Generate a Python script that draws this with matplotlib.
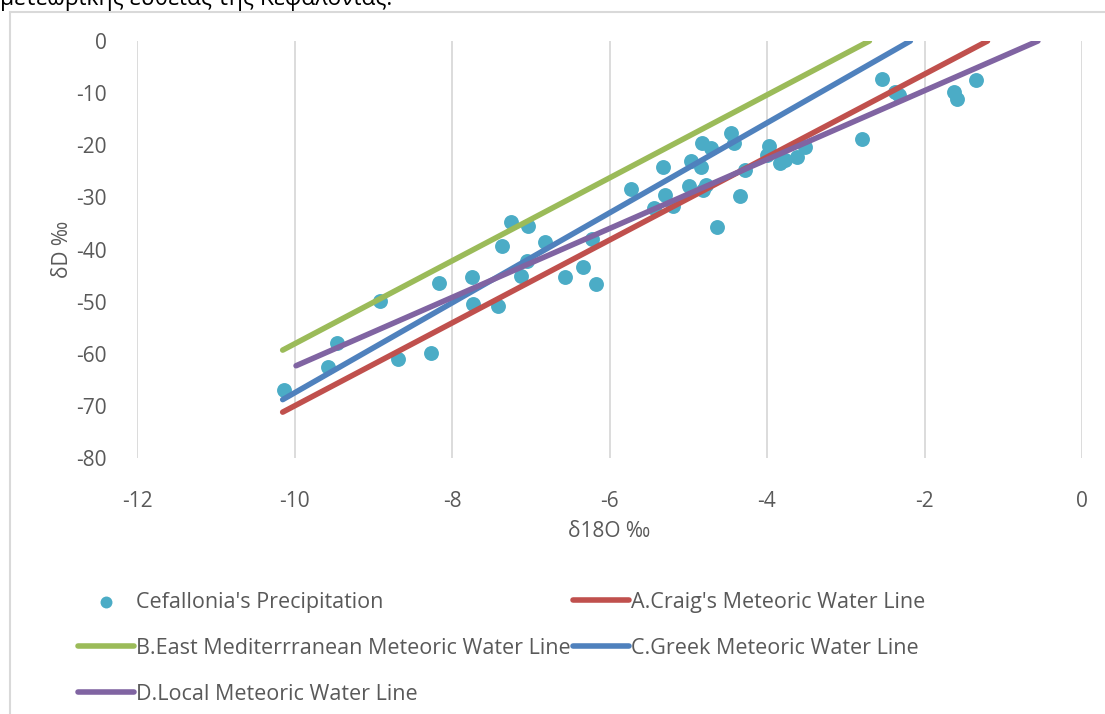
import matplotlib.pyplot as plt
from matplotlib.lines import Line2D

plt.rcParams['font.family'] = ['Open Sans', 'DejaVu Sans']
plt.rcParams['axes.unicode_minus'] = False

# δ18O / δD of precipitation samples
d18o = [-10.13, -9.57, -9.46, -8.91, -8.69, -8.17, -8.27, -7.74, -7.73, -7.42,
        -7.25, -7.37, -7.04, -6.82, -7.05, -7.12, -6.56, -6.34, -6.22, -6.17,
        -5.73, -5.32, -5.30, -5.44, -5.19, -4.99, -4.97, -4.83, -4.71, -4.84,
        -4.78, -4.81, -4.64, -4.46, -4.42, -4.34, -4.28, -3.97, -4.00, -3.83,
        -3.77, -3.62, -3.52, -2.79, -2.54, -2.38, -2.32, -1.63, -1.59, -1.34]
dD = [-66.9, -62.6, -57.9, -49.9, -61.1, -46.5, -59.8, -45.2, -50.5, -50.8,
      -34.7, -39.3, -35.4, -38.5, -42.3, -45.0, -45.2, -43.3, -37.9, -46.7,
      -28.3, -24.2, -29.5, -32.1, -31.7, -27.8, -23.0, -19.5, -20.6, -24.1,
      -27.6, -28.5, -35.6, -17.7, -19.6, -29.7, -24.7, -20.1, -21.9, -23.5,
      -22.8, -22.2, -20.4, -18.8, -7.2, -9.7, -10.4, -9.7, -11.1, -7.4]

# meteoric water lines (end points)
craig_x, craig_y = [-10.15, -1.2], [-71.2, 0]
emmwl_x, emmwl_y = [-10.15, -2.7], [-59.3, 0]
gmwl_x, gmwl_y = [-10.15, -2.18], [-68.8, 0]
lmwl_x, lmwl_y = [-9.98, -0.56], [-62.3, 0]

grey = '#595959'
fs = 15
lfs = 15.5

fig = plt.figure(figsize=(11.05, 7.14), dpi=100)
ax = fig.add_axes([137 / 1105, 1 - 458 / 714, 945 / 1105, 417 / 714])

ax.scatter(d18o, dD, s=115, color='#4BACC6', zorder=2, linewidths=0,
           label="Cefallonia's Precipitation")
lw = 4
ax.plot(craig_x, craig_y, color='#C0504D', lw=lw, solid_capstyle='round', zorder=3,
        label="A.Craig's Meteoric Water Line")
ax.plot(emmwl_x, emmwl_y, color='#9BBB59', lw=lw, solid_capstyle='round', zorder=3,
        label='B.East Mediterrranean Meteoric Water Line')
ax.plot(gmwl_x, gmwl_y, color='#4F81BD', lw=lw, solid_capstyle='round', zorder=3,
        label='C.Greek Meteoric Water Line')
ax.plot(lmwl_x, lmwl_y, color='#8064A2', lw=lw, solid_capstyle='round', zorder=3,
        label='D.Local Meteoric Water Line')

ax.set_xlim(-12, 0)
ax.set_ylim(-80, 0)
ax.set_xticks(range(-12, 1, 2))
ax.set_yticks(range(-80, 1, 10))
ax.grid(axis='x', color='#d9d9d9', lw=1.3, zorder=0)
for s in ax.spines.values():
    s.set_visible(False)
ax.tick_params(length=0, labelsize=fs, labelcolor=grey)
ax.tick_params(axis='y', pad=22)
ax.tick_params(axis='x', pad=24)
ax.set_xlabel('δ18O ‰', fontsize=fs, color=grey, labelpad=6)
ax.set_ylabel('δD ‰', fontsize=fs, color=grey, labelpad=2)

# legend: two columns, row-major order
h, l = ax.get_legend_handles_labels()
order = [0, 2, 4, 1, 3]
fig.legend([h[i] for i in order], [l[i] for i in order], ncol=2, frameon=False,
           loc='upper left', bbox_to_anchor=(78 / 1105, 1 - 592 / 714),
           fontsize=lfs, labelcolor=grey, handlelength=2.6, handletextpad=0.1,
           columnspacing=0.1, labelspacing=1.15, markerscale=0.8,
           borderaxespad=0, borderpad=0)

# chart frame and cut-off caption above it
fig.add_artist(Line2D([10 / 1105, 1], [1 - 12 / 714] * 2, color='#d9d9d9', lw=1.5))
fig.add_artist(Line2D([10 / 1105] * 2, [0, 1 - 12 / 714], color='#d9d9d9', lw=1.5))
fig.text(0.0, 1 - 5 / 714, 'μετεωρικής ευθείας της Κεφαλονιάς.', fontsize=16.5,
         color='black', va='baseline', ha='left')

fig.savefig('out.png', dpi=100)
